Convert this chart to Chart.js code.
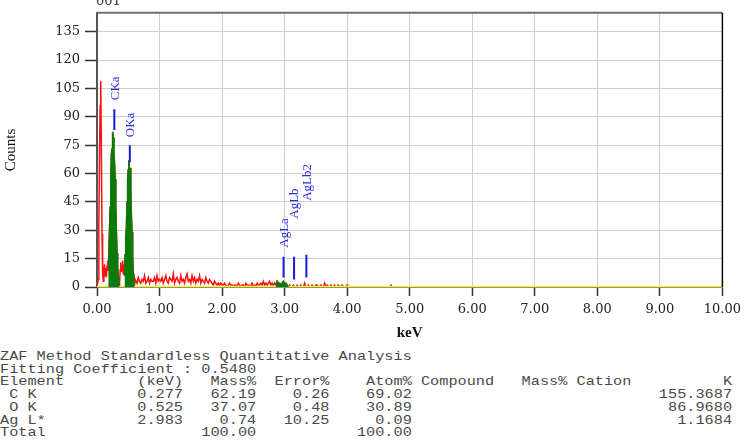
<!DOCTYPE html>
<html>
<head>
<meta charset="utf-8">
<title>EDS spectrum 001</title>
<script src="https://cdn.jsdelivr.net/npm/chart.js@4.4.1/dist/chart.umd.min.js"></script>
<style>
  body { margin: 0; background: #fff; width: 747px; height: 441px; overflow: hidden; position: relative; }
  #wrap { position: absolute; left: 0; top: 0; width: 747px; height: 345px; }
  #zaf {
    position: absolute; left: 0; top: 351px; margin: 0;
    font: 13px/12.7px "Liberation Mono", monospace; color: #4a4a4a;
    transform: scaleX(1.173); transform-origin: 0 0; white-space: pre;
  }
</style>
</head>
<body>
<div id="wrap"><canvas id="spectrum" width="747" height="345"></canvas></div>
<pre id="zaf"></pre>
<script>
// Spectrum channels: keV = start + i * step, counts
const lowStart = 0.00, lowStep = 0.01;
const lowCounts = [
  0, 0, 4, 34, 68, 96, 109, 72, 28, 7,
  3, 8, 12, 6, 10, 5, 11, 14, 9, 18,
  30, 42, 56, 70, 73, 82, 79, 71, 66, 57,
  43, 29, 18, 10, 5, 3, 1, 9, 13, 8,
  11, 14, 7, 12, 6, 17, 26, 31, 45, 57,
  62, 67, 61, 63, 51, 37, 29, 16, 7, 2,
  1, 4
];
const tailStart = 0.62, tailStep = 0.02;
const tailCounts = [
  4, 2, 5, 3, 2, 4, 3, 6, 2, 3, 5, 2, 4, 3, 3, 5, 2, 6, 3, 4,
  3, 5, 2, 4, 6, 3, 2, 5, 4, 3, 7, 2, 4, 5, 3, 2, 6, 3, 4, 2,
  5, 7, 3, 4, 2, 6, 3, 5, 2, 4, 3, 6, 2, 4, 3, 2, 5, 3, 2, 4,
  3, 2, 1, 3, 2, 1, 2, 1, 2, 1, 1, 2, 1, 0, 1, 2, 1, 1, 0, 1,
  1, 0, 2, 1, 0, 1, 1, 0, 2, 1, 1, 0, 1, 2, 0, 1, 0, 2, 1, 1,
  2, 1, 3, 1, 2, 1, 2, 3, 1, 2, 1, 2, 1, 3, 2, 2, 1, 2, 3, 2,
  2, 1, 0, 1, 0, 0, 1, 0, 0, 1, 0, 0, 1, 0, 0, 2, 0, 0, 1, 0,
  0, 1, 0, 0, 1, 1, 0, 0, 1, 0, 0, 2, 0, 1, 0, 0, 1, 0, 0, 1,
  0, 0, 1, 0, 0, 1, 0, 0, 0, 1, 0, 0, 0, 0, 0, 0, 0, 0, 0, 0,
  0, 0, 0, 0, 0, 0, 0, 0, 0, 0, 0, 0, 0, 0, 0, 0, 0, 0, 0, 0,
  0, 0, 0, 0, 1, 0, 0, 0, 0, 0
];

// keV ranges shaded green under identified peaks
const peakWindows = [[0.18, 0.36], [0.44, 0.60], [2.86, 3.06]];

// Peak markers (blue bars + labels)
const peakNames = ['CKa', 'OKa', 'AgLa', 'AgLb', 'AgLb2'];
const peakKeV = [0.277, 0.525, 2.983, 3.151, 3.348];
const peakFrom = [83, 66, 5, 4, 5];
const peakTo = [94, 75, 16, 16, 17];

const xTicks = [0, 1, 2, 3, 4, 5, 6, 7, 8, 9, 10];
const yTicks = [0, 15, 30, 45, 60, 75, 90, 105, 120, 135];

// ZAF result table
const zafTitle = 'ZAF Method Standardless Quantitative Analysis';
const zafFit = 'Fitting Coefficient : 0.5480';
const zafHeader = ['Element', '(keV)', 'Mass%', 'Error%', 'Atom%', 'Compound', 'Mass%', 'Cation', 'K'];
const zafRows = [
  [' C K', '0.277', '62.19', '0.26', '69.02', '', '', '', '155.3687'],
  [' O K', '0.525', '37.07', '0.48', '30.89', '', '', '', '86.9680'],
  ['Ag L*', '2.983', '0.74', '10.25', '0.09', '', '', '', '1.1684'],
  ['Total', '', '100.00', '', '100.00', '', '', '', '']
];

// last column of each table field (text is right aligned to it)
const colEnds = [0, 19, 27, 35, 44, 53, 61, 68, 79];
function tableLine(cells) {
  let s = cells[0];
  for (let i = 1; i < cells.length; i++) {
    if (!cells[i]) continue;
    s = s.padEnd(colEnds[i] + 1 - cells[i].length) + cells[i];
  }
  return s;
}
document.getElementById('zaf').textContent =
  [zafTitle, zafFit, tableLine(zafHeader)].concat(zafRows.map(tableLine)).join('\n');

// build spectrum points
const spectrum = lowCounts.map((c, i) => ({ x: lowStart + i * lowStep, y: c }))
  .concat(tailCounts.map((c, i) => ({ x: tailStart + i * tailStep, y: c })));

const peakSets = peakWindows.map(w => ({
  data: spectrum.filter(p => p.x >= w[0] - 1e-9 && p.x <= w[1] + 1e-9),
  borderColor: '#0a7a0a',
  backgroundColor: '#0a7a0a',
  borderWidth: 1.5,
  fill: 'origin',
  pointRadius: 0,
  order: 1
}));

const markerSets = peakKeV.map((k, i) => ({
  data: [{ x: k, y: peakFrom[i] }, { x: k, y: peakTo[i] }],
  borderColor: '#1a1ad8',
  borderWidth: 2,
  pointRadius: 0,
  order: 0
}));

// label distance above each marker top, px
const labelLift = [9, 8, 9, 38, 54];

const spectrumDecor = {
  id: 'spectrumDecor',
  afterDatasetsDraw(chart) {
    const { ctx, chartArea: a, scales } = chart;
    ctx.save();
    // frame top and right
    ctx.strokeStyle = '#707070';
    ctx.lineWidth = 2;
    ctx.beginPath();
    ctx.moveTo(a.left, a.top);
    ctx.lineTo(a.right, a.top);
    ctx.stroke();
    ctx.strokeStyle = '#000';
    ctx.lineWidth = 1.5;
    ctx.beginPath();
    ctx.moveTo(a.right, a.top);
    ctx.lineTo(a.right, a.bottom);
    ctx.stroke();

    // peak labels, rotated
    ctx.fillStyle = '#2a2ae0';
    ctx.font = '13px "Liberation Serif", serif';
    ctx.textAlign = 'left';
    ctx.textBaseline = 'middle';
    peakNames.forEach((name, i) => {
      const x = scales.x.getPixelForValue(peakKeV[i]);
      const y = scales.y.getPixelForValue(peakTo[i]) - labelLift[i];
      ctx.save();
      ctx.translate(x + 1, y);
      ctx.rotate(-Math.PI / 2);
      ctx.fillText(name, 0, 0);
      ctx.restore();
    });

    // sample name, cut off at the top edge
    ctx.fillStyle = '#333';
    ctx.font = '13px "DejaVu Serif", serif';
    ctx.textBaseline = 'alphabetic';
    ctx.fillText('001', a.left - 1, 5);
    ctx.restore();
  }
};

Chart.defaults.font.family = '"DejaVu Serif", serif';
Chart.defaults.font.size = 13;
Chart.defaults.color = '#222';

new Chart(document.getElementById('spectrum'), {
  type: 'line',
  data: {
    datasets: markerSets.concat(peakSets, [
      {
        data: [{ x: 0, y: 0 }, { x: 10, y: 0 }],
        borderColor: '#ffff00',
        borderWidth: 2.5,
        pointRadius: 0,
        order: 2
      },
      {
        data: spectrum,
        borderColor: '#ff1010',
        borderWidth: 1.5,
        pointRadius: 0,
        order: 3
      }
    ])
  },
  options: {
    responsive: false,
    animation: false,
    layout: { padding: { top: 10, right: 22, left: 0, bottom: 0 } },
    plugins: { legend: { display: false }, tooltip: { enabled: false } },
    scales: {
      x: {
        type: 'linear',
        min: 0,
        max: 10,
        afterBuildTicks: s => { s.ticks = xTicks.map(v => ({ value: v })); },
        afterFit: s => { s.height = 58; },
        ticks: { callback: v => v.toFixed(2), padding: 6, maxRotation: 0, autoSkip: false },
        grid: { color: '#cfcfcf', lineWidth: 1, tickLength: 9, tickColor: '#333', tickWidth: 1.5 },
        border: { color: '#555', width: 1.5 },
        title: {
          display: true,
          text: 'keV',
          color: '#111',
          font: { family: '"Liberation Serif", serif', size: 15, weight: 'bold' },
          padding: { top: 0, bottom: 3 }
        }
      },
      y: {
        type: 'linear',
        min: 0,
        max: 145,
        afterBuildTicks: s => { s.ticks = yTicks.map(v => ({ value: v })); },
        afterFit: s => { s.width = 97; },
        ticks: { padding: 5 },
        grid: { color: '#cfcfcf', lineWidth: 1, tickLength: 12, tickColor: '#333', tickWidth: 1.5 },
        border: { color: '#555', width: 2 },
        title: {
          display: true,
          text: 'Counts',
          color: '#111',
          font: { family: '"Liberation Serif", serif', size: 15 },
          padding: { top: 2, bottom: 0 }
        }
      }
    }
  },
  plugins: [spectrumDecor]
});
</script>
</body>
</html>
